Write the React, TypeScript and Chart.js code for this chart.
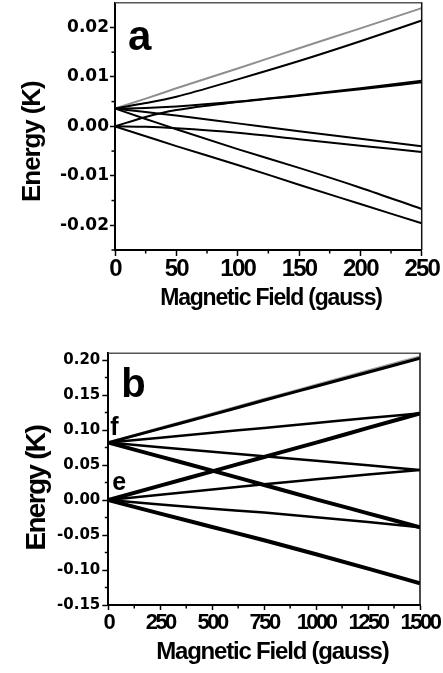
import React, { useEffect, useRef } from 'react';
import { Chart, registerables } from 'chart.js';

Chart.register(...registerables);

// ---------- Panel a data ----------
const FIELD_A = [0, 25, 50, 100, 150, 200, 250];
const A_GRAY = [0.0036, 0.0056, 0.0077, 0.0117, 0.0158, 0.0198, 0.0239];
const A_TOP = [0.0036, 0.0047, 0.006, 0.0095, 0.0132, 0.0172, 0.0214];
const A_UPPER_FLAT = [0.0036, 0.0037, 0.004, 0.005, 0.0063, 0.0077, 0.0092];
const A_LOWER_RISE = [0.0, 0.0019, 0.0033, 0.0049, 0.0062, 0.0075, 0.0089];
const A_UPPER_MOD = [0.0036, 0.0029, 0.0022, 0.0006, -0.001, -0.0025, -0.004];
const A_LOWER_FLAT = [0.0, -0.0001, -0.0004, -0.0013, -0.0026, -0.0039, -0.0052];
const A_UPPER_STEEP = [0.0036, 0.0015, -0.0006, -0.0046, -0.0084, -0.0124, -0.0167];
const A_LOWER_DESC = [0.0, -0.002, -0.004, -0.0078, -0.0118, -0.0157, -0.0196];

const A_X_TICKS = [0, 50, 100, 150, 200, 250];
const A_X_LABELS = ['0', '50', '100', '150', '200', '250'];
const A_X_MINOR = [25, 75, 125, 175, 225];
const A_Y_TICKS = [-0.02, -0.01, 0, 0.01, 0.02];
const A_Y_LABELS = ['-0.02', '-0.01', '0.00', '0.01', '0.02'];
const A_Y_MINOR = [-0.025, -0.015, -0.005, 0.005, 0.015];

// ---------- Panel b data ----------
const FIELD_B = [0, 250, 500, 750, 1000, 1250, 1500];
const B_GRAY = [0.082, 0.1025, 0.123, 0.1435, 0.164, 0.1845, 0.2045];
const B_TOP = [0.082, 0.102, 0.122, 0.1425, 0.1625, 0.1825, 0.2025];
const B_F_UP = [0.082, 0.089, 0.096, 0.103, 0.11, 0.117, 0.1238];
const B_F_MID = [0.082, 0.0755, 0.069, 0.0625, 0.056, 0.0495, 0.0429];
const B_F_DOWN = [0.082, 0.062, 0.042, 0.0215, 0.001, -0.019, -0.039];
const B_E_UP = [0.0, 0.0205, 0.041, 0.0615, 0.082, 0.103, 0.1238];
const B_E_MID = [0.0, 0.0075, 0.015, 0.0225, 0.0295, 0.0365, 0.0429];
const B_E_LOW = [0.0, -0.0065, -0.0125, -0.018, -0.0245, -0.0315, -0.039];
const B_E_DOWN = [0.0, -0.0195, -0.0385, -0.0575, -0.0775, -0.098, -0.119];

const B_X_TICKS = [0, 250, 500, 750, 1000, 1250, 1500];
const B_X_LABELS = ['0', '250', '500', '750', '1000', '1250', '1500'];
const B_X_MINOR = [125, 375, 625, 875, 1125, 1375];
const B_Y_TICKS = [-0.15, -0.1, -0.05, 0, 0.05, 0.1, 0.15, 0.2];
const B_Y_LABELS = ['-0.15', '-0.10', '-0.05', '0.00', '0.05', '0.10', '0.15', '0.20'];
const B_Y_MINOR = [-0.125, -0.075, -0.025, 0.025, 0.075, 0.125, 0.175];

const SANS = "'Liberation Sans', Arial, sans-serif";
const DEJAVU = "'DejaVu Sans', sans-serif";

const pts = (xs: number[], ys: number[]) => xs.map((x, i) => ({ x, y: ys[i] }));

const labelFor = (ticks: number[], labels: string[]) => (v: any) => {
  const i = ticks.findIndex((t) => Math.abs(t - Number(v)) < 1e-9);
  return i >= 0 ? labels[i] : '';
};

// condense a scale's text (tick labels / title) with canvas letter spacing
function condense(s: any, tickSpacing: number, titleSpacing: number) {
  if (s.__condensed) return;
  s.__condensed = true;
  const dl = s.drawLabels;
  const dt = s.drawTitle;
  s.drawLabels = function (ca: any) {
    const c: any = this.ctx;
    const p = c.letterSpacing;
    c.letterSpacing = tickSpacing + 'px';
    dl.call(this, ca);
    c.letterSpacing = p || '0px';
  };
  s.drawTitle = function () {
    const c: any = this.ctx;
    const p = c.letterSpacing;
    c.letterSpacing = titleSpacing + 'px';
    dt.call(this);
    c.letterSpacing = p || '0px';
  };
}

type Letter = { text: string; dx: number; dy: number; size: number; level?: number };

function decorPlugin(xMinor: number[], yMinor: number[], letters: Letter[]) {
  return {
    id: 'decor',
    afterDatasetsDraw(chart: any) {
      const { ctx, chartArea: ca, scales } = chart;
      ctx.save();
      ctx.lineWidth = 1.5;
      ctx.strokeStyle = '#555';
      ctx.beginPath();
      ctx.moveTo(ca.left, ca.top);
      ctx.lineTo(ca.right + 0.75, ca.top);
      ctx.stroke();
      ctx.strokeStyle = '#111';
      ctx.beginPath();
      ctx.moveTo(ca.right, ca.top);
      ctx.lineTo(ca.right, ca.bottom);
      ctx.stroke();
      ctx.strokeStyle = '#000';
      ctx.lineWidth = 1.5;
      for (const v of xMinor) {
        const px = scales.x.getPixelForValue(v);
        ctx.beginPath();
        ctx.moveTo(px, ca.bottom);
        ctx.lineTo(px, ca.bottom + 3.5);
        ctx.stroke();
      }
      for (const v of yMinor) {
        const py = scales.y.getPixelForValue(v);
        ctx.beginPath();
        ctx.moveTo(ca.left - 3.5, py);
        ctx.lineTo(ca.left, py);
        ctx.stroke();
      }
      ctx.fillStyle = '#000';
      ctx.textAlign = 'left';
      ctx.textBaseline = 'alphabetic';
      for (const l of letters) {
        ctx.font = `bold ${l.size}px ${SANS}`;
        const baseY = l.level !== undefined ? scales.y.getPixelForValue(l.level) : ca.top;
        ctx.fillText(l.text, ca.left + l.dx, baseY + l.dy);
      }
      ctx.restore();
    },
  };
}

type PanelCfg = {
  height: number;
  padding: { top: number; right: number; left: number; bottom: number };
  yWidth: number;
  xHeight: number;
  datasets: any[];
  xMin: number;
  xMax: number;
  yMin: number;
  yMax: number;
  xTicks: number[];
  xLabels: string[];
  yTicks: number[];
  yLabels: string[];
  xMinor: number[];
  yMinor: number[];
  xTickFont: number;
  xTickSpacing: number;
  yTickFont: number;
  xTickLen: number;
  yTickLen: number;
  xTickPad: number;
  yTickPad: number;
  yTitle: string;
  yTitleFont: number;
  yTitleSpacing: number;
  yTitlePad: number;
  xTitle: string;
  xTitleFont: number;
  xTitleSpacing: number;
  xTitlePad: number;
  letters: Letter[];
};

function Panel({ cfg, top }: { cfg: PanelCfg; top: number }) {
  const ref = useRef<HTMLCanvasElement | null>(null);
  useEffect(() => {
    if (!ref.current) return;
    const chart = new Chart(ref.current, {
      type: 'line',
      data: { datasets: cfg.datasets },
      options: {
        animation: false,
        responsive: false,
        events: [],
        layout: { padding: cfg.padding },
        plugins: { legend: { display: false }, tooltip: { enabled: false } },
        elements: { point: { radius: 0 }, line: { cubicInterpolationMode: 'monotone' } },
        scales: {
          x: {
            type: 'linear',
            min: cfg.xMin,
            max: cfg.xMax,
            afterBuildTicks: (s: any) => {
              s.ticks = cfg.xTicks.map((v) => ({ value: v }));
            },
            afterFit: (s: any) => {
              s.height = cfg.xHeight;
              s.paddingLeft = 0;
              s.paddingRight = 0;
              condense(s, cfg.xTickSpacing, cfg.xTitleSpacing);
            },
            grid: {
              drawOnChartArea: false,
              drawTicks: true,
              tickLength: cfg.xTickLen,
              tickWidth: 1.5,
              tickColor: '#000',
            },
            border: { display: true, color: '#000', width: 2 },
            ticks: {
              autoSkip: false,
              maxRotation: 0,
              padding: cfg.xTickPad,
              color: '#000',
              font: { family: SANS, size: cfg.xTickFont, weight: 'bold' },
              callback: labelFor(cfg.xTicks, cfg.xLabels),
            },
            title: {
              display: true,
              text: cfg.xTitle,
              color: '#000',
              font: { family: SANS, size: cfg.xTitleFont, weight: 'bold' },
              padding: { top: 0, bottom: cfg.xTitlePad },
            },
          },
          y: {
            type: 'linear',
            min: cfg.yMin,
            max: cfg.yMax,
            afterBuildTicks: (s: any) => {
              s.ticks = cfg.yTicks.map((v) => ({ value: v }));
            },
            afterFit: (s: any) => {
              s.width = cfg.yWidth;
              s.paddingTop = 0;
              s.paddingBottom = 0;
              condense(s, 0, cfg.yTitleSpacing);
            },
            grid: {
              drawOnChartArea: false,
              drawTicks: true,
              tickLength: cfg.yTickLen,
              tickWidth: 1.5,
              tickColor: '#000',
            },
            border: { display: true, color: '#000', width: 2 },
            ticks: {
              padding: cfg.yTickPad,
              color: '#000',
              font: { family: DEJAVU, size: cfg.yTickFont, weight: 'bold' },
              callback: labelFor(cfg.yTicks, cfg.yLabels),
            },
            title: {
              display: true,
              text: cfg.yTitle,
              color: '#000',
              font: { family: SANS, size: cfg.yTitleFont, weight: 'bold' },
              padding: { top: cfg.yTitlePad, bottom: 0 },
            },
          },
        },
      } as any,
      plugins: [decorPlugin(cfg.xMinor, cfg.yMinor, cfg.letters)],
    });
    return () => chart.destroy();
  }, [cfg]);
  return (
    <canvas
      ref={ref}
      width={443}
      height={cfg.height}
      style={{ position: 'absolute', left: 0, top, width: 443, height: cfg.height, display: 'block' }}
    />
  );
}

const line = (xs: number[], ys: number[], color: string, width: number) => ({
  data: pts(xs, ys),
  borderColor: color,
  borderWidth: width,
  fill: false,
  pointRadius: 0,
});

const BLACK = '#000000';
const GRAY = '#8f8f8f';

const CFG_A: PanelCfg = {
  height: 325,
  padding: { top: 2.7, right: 21.3, left: 0, bottom: 0 },
  yWidth: 115,
  xHeight: 75,
  datasets: [
    line(FIELD_A, A_TOP, BLACK, 2),
    line(FIELD_A, A_UPPER_FLAT, BLACK, 2),
    line(FIELD_A, A_LOWER_RISE, BLACK, 2),
    line(FIELD_A, A_UPPER_MOD, BLACK, 2),
    line(FIELD_A, A_LOWER_FLAT, BLACK, 2),
    line(FIELD_A, A_UPPER_STEEP, BLACK, 2),
    line(FIELD_A, A_LOWER_DESC, BLACK, 2),
    line(FIELD_A, A_GRAY, GRAY, 2),
  ],
  xMin: 0,
  xMax: 250,
  yMin: -0.025,
  yMax: 0.025,
  xTicks: A_X_TICKS,
  xLabels: A_X_LABELS,
  yTicks: A_Y_TICKS,
  yLabels: A_Y_LABELS,
  xMinor: A_X_MINOR,
  yMinor: A_Y_MINOR,
  xTickFont: 24,
  xTickSpacing: -1.8,
  yTickFont: 17,
  xTickLen: 6,
  yTickLen: 5,
  xTickPad: -1.4,
  yTickPad: 1,
  yTitle: 'Energy (K)     ',
  yTitleFont: 26,
  yTitleSpacing: -1.1,
  yTitlePad: 17,
  xTitle: ' Magnetic Field (gauss)',
  xTitleFont: 23,
  xTitleSpacing: -1.2,
  xTitlePad: 13,
  letters: [{ text: 'a', dx: 13, dy: 47, size: 42 }],
};

const CFG_B: PanelCfg = {
  height: 348,
  padding: { top: 28.3, right: 23, left: 0, bottom: 0 },
  yWidth: 108.3,
  xHeight: 68,
  datasets: [
    line(FIELD_B, B_TOP, BLACK, 3),
    line(FIELD_B, B_F_UP, BLACK, 2.5),
    line(FIELD_B, B_F_MID, BLACK, 2.5),
    line(FIELD_B, B_F_DOWN, BLACK, 4),
    line(FIELD_B, B_E_UP, BLACK, 4),
    line(FIELD_B, B_E_MID, BLACK, 2.5),
    line(FIELD_B, B_E_LOW, BLACK, 2.5),
    line(FIELD_B, B_E_DOWN, BLACK, 4),
    line(FIELD_B, B_GRAY, '#a0a0a0', 3),
  ],
  xMin: 0,
  xMax: 1500,
  yMin: -0.15,
  yMax: 0.2096,
  xTicks: B_X_TICKS,
  xLabels: B_X_LABELS,
  yTicks: B_Y_TICKS,
  yLabels: B_Y_LABELS,
  xMinor: B_X_MINOR,
  yMinor: B_Y_MINOR,
  xTickFont: 22,
  xTickSpacing: -2.5,
  yTickFont: 15,
  xTickLen: 5,
  yTickLen: 6,
  xTickPad: -0.7,
  yTickPad: 2,
  yTitle: 'Energy (K)   ',
  yTitleFont: 28,
  yTitleSpacing: -1.7,
  yTitlePad: 20,
  xTitle: '   Magnetic Field (gauss)',
  xTitleFont: 24,
  xTitleSpacing: -1.2,
  xTitlePad: 6.6,
  letters: [
    { text: 'b', dx: 13, dy: 44, size: 40 },
    { text: 'f', dx: 2, dy: -8, size: 25, level: 0.082 },
    { text: 'e', dx: 4, dy: -10, size: 25, level: 0 },
  ],
};

export default function App() {
  return (
    <div style={{ position: 'absolute', left: 0, top: 0, width: 443, height: 673, background: '#fff' }}>
      <Panel cfg={CFG_A} top={0} />
      <Panel cfg={CFG_B} top={325} />
    </div>
  );
}
